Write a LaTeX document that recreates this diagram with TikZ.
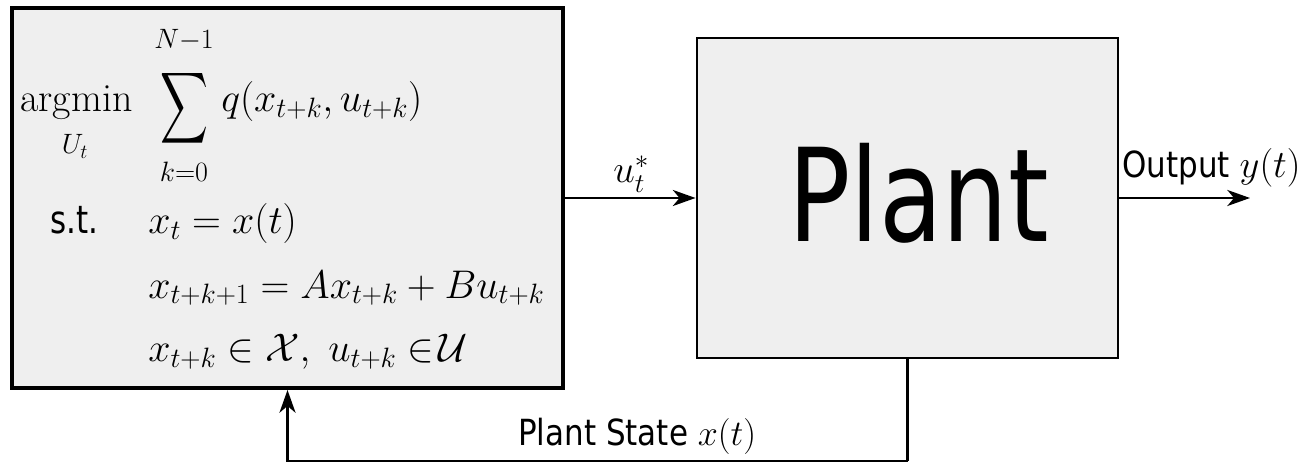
\RequirePackage{fix-cm}
\documentclass[tikz,border=0pt]{standalone}
\usepackage{amsmath}
\usepackage{graphicx}
\usepackage{fontspec}
\newfontfamily\sanslab[FakeStretch=0.86]{DejaVu Sans}
\newfontfamily\sansst[FakeStretch=0.8]{DejaVu Sans}
\usetikzlibrary{arrows.meta}
\definecolor{boxfill}{RGB}{239,239,239}
\tikzset{
  blockbox/.style={draw=black, fill=boxfill, inner sep=0pt},
  mtxt/.style={inner sep=0pt, font=\fontsize{30}{36}\selectfont},
  etxt/.style={inner sep=0pt, font=\fontsize{30}{36}\selectfont},
  labtxt/.style={inner sep=0pt, font=\fontsize{27}{32}\selectfont\sanslab},
  conn/.style={line width=2pt, -{Stealth[length=17pt,width=12pt,inset=5pt]}},
  plainconn/.style={line width=2pt}
}
\begin{document}
\begin{tikzpicture}[x=0.75pt,y=-0.75pt]
\useasboundingbox (0,0) rectangle (1299,463);
% blocks
\node[blockbox, line width=3pt, minimum width=413.25pt, minimum height=285pt] (mpc) at (287.5,198) {};
\node[blockbox, line width=2.2pt, minimum width=315.75pt, minimum height=240pt] (plant) at (907.5,198) {};
% optimisation problem
\node[mtxt, anchor=base west] (argmin) at (20,112) {$\mathrm{argmin}$};
\node[mtxt, anchor=base] (ut) at (75,154) {$\scriptstyle U_t$};
\node[etxt] (sumsym) at (184,108) {\scalebox{1.0}[1.5]{$\displaystyle\sum$}};
\node[mtxt, anchor=base] (sumup) at (184,49) {$\scriptstyle N-1$};
\node[mtxt, anchor=base] (sumlo) at (184,182) {$\scriptstyle k=0$};
\node[etxt, anchor=base west] (cost) at (221,112) {$q(x_{t+k},u_{t+k})$};
\node[inner sep=0pt, font=\fontsize{29}{34}\selectfont\sansst, anchor=base west] (st) at (50,234) {s.t.};
\node[etxt, anchor=base west] (c1) at (148,234) {$x_t=x(t)$};
\node[etxt, anchor=base west] (c2) at (148,298) {$x_{t+k+1}=Ax_{t+k}+Bu_{t+k}$};
\node[etxt, anchor=base west] (c3) at (148,361) {$x_{t+k}\in\mathcal{X},\;u_{t+k}\mathrel{\in}\!\mathcal{U}$};
% plant text
\node[inner sep=0pt, font=\fontsize{97}{110}\selectfont\sansst, anchor=base west] (planttxt) at (788,242) {Plant};
% connectors
\draw[conn] (mpc.east) -- (plant.west);
\node[inner sep=0pt, font=\fontsize{29}{34}\selectfont, anchor=base west] (ulab) at (613,183) {$u_t^*$};
\coordinate (outend) at (1250,198);
\draw[conn] (plant.east) -- (outend);
\node[labtxt, anchor=base west] (outlab) at (1122,178) {Output {\fontsize{29}{34}\selectfont$y(t)$}};
\coordinate (fbcorner) at (907.5,461);
\draw[plainconn] (plant.south) -- (fbcorner);
\draw[conn] (fbcorner) -| (mpc.south);
\node[labtxt, anchor=base west] (fblab) at (518,445) {Plant State {\fontsize{27}{32}\selectfont$x(t)$}};
\end{tikzpicture}
\end{document}
